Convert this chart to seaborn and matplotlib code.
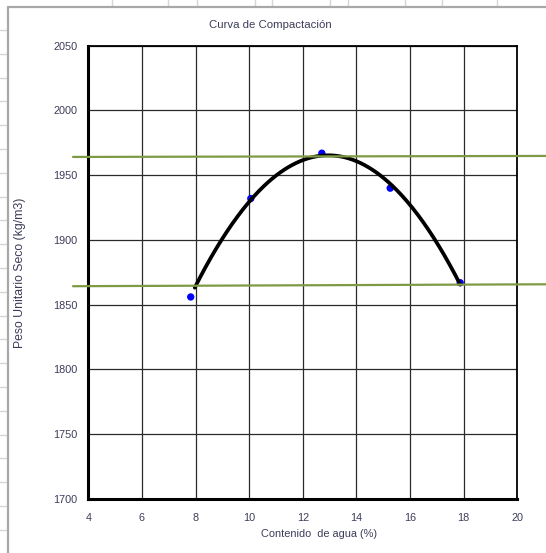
import numpy as np
import pandas as pd
import matplotlib
matplotlib.use("Agg")
import matplotlib.pyplot as plt
from matplotlib.lines import Line2D
import seaborn as sns

# Ensayo Proctor: contenido de agua (%) y peso unitario seco (kg/m3)
contenido_agua = [7.82, 10.06, 12.71, 15.26, 17.87]
peso_unitario = [1856, 1932, 1967, 1940, 1867]

# Referencias horizontales (valor en el extremo izquierdo y derecho)
ref_sup = [1964.1, 1964.9]
ref_inf = [1864.3, 1865.8]
ref_x = [3.43, 21.3]

x_ticks = [4, 6, 8, 10, 12, 14, 16, 18, 20]
y_ticks = [1700, 1750, 1800, 1850, 1900, 1950, 2000, 2050]

titulo = "Curva de Compactación"
etiqueta_x = "Contenido  de agua (%)"
etiqueta_y = "Peso Unitario Seco (kg/m3)"

sns.set_style("white")
plt.rcParams["font.family"] = ["Liberation Sans", "DejaVu Sans"]

W, H = 546, 553
fig = plt.figure(figsize=(W / 100, H / 100), dpi=100)
fig.patch.set_facecolor("white")

# Hoja de cálculo detrás del gráfico
cell = "#d6d6d6"
for yy in np.arange(30, 553, 23.8):
    fig.add_artist(Line2D([0, 8 / W], [1 - yy / H, 1 - yy / H], color=cell, lw=1))
for xx in [112, 168, 197, 255, 272, 330, 348, 405, 442, 497]:
    fig.add_artist(Line2D([xx / W, xx / W], [1, 1 - 7 / H], color=cell, lw=1))
fig.add_artist(Line2D([8 / W, 8 / W], [0, 1 - 7 / H], color="#a8a8a8", lw=1.6))
fig.add_artist(Line2D([8 / W, 1], [1 - 7 / H, 1 - 7 / H], color="#a8a8a8", lw=1.6))

left, right = 88.3 / W, 517.3 / W
bottom, top = 1 - 499 / H, 1 - 45.7 / H
ax = fig.add_axes([left, bottom, right - left, top - bottom])
ax.set_facecolor("white")

df = pd.DataFrame({"w": contenido_agua, "g": peso_unitario})

# Ajuste polinómico de segundo orden
coef = np.polyfit(df["w"], df["g"], 2)
xs = np.linspace(min(contenido_agua) + 0.15, max(contenido_agua), 200)
fit = pd.DataFrame({"w": xs, "g": np.polyval(coef, xs)})

ax.set_xlim(4, 20)
ax.set_ylim(1700, 2050)
ax.set_xticks(x_ticks)
ax.set_yticks(y_ticks)
ax.grid(True, color="#2a2a2a", lw=0.9)
ax.set_axisbelow(True)

sns.scatterplot(data=df, x="w", y="g", ax=ax, color="#0000ff", s=28,
                edgecolor="none", zorder=3)
sns.lineplot(data=fit, x="w", y="g", ax=ax, color="black", lw=2.7, zorder=4)

green = "#7f9a45"
ax.plot(ref_x, ref_sup, color=green, lw=1.6, clip_on=False, zorder=5)
ax.plot(ref_x, ref_inf, color=green, lw=1.6, clip_on=False, zorder=5)

for side in ["left", "bottom"]:
    ax.spines[side].set_linewidth(2.2)
    ax.spines[side].set_color("black")
for side in ["top", "right"]:
    ax.spines[side].set_linewidth(1.3)
    ax.spines[side].set_color("black")

txt = "#3c3c5a"
ax.tick_params(axis="both", direction="out", length=3, width=1, color="black",
               labelsize=7.8, labelcolor=txt, pad=3)
ax.tick_params(axis="x", pad=7)
ax.tick_params(axis="y", pad=5)

ax.set_xlabel(etiqueta_x, fontsize=7.9, color=txt)
ax.set_ylabel(etiqueta_y, fontsize=8.8, color=txt, family=["Liberation Sans"])
ax.xaxis.set_label_coords(0.539, -0.066)
ax.yaxis.set_label_coords(-0.146, 0.5)

fig.text(270 / W, 1 - 25 / H, titulo, ha="center", va="center", fontsize=8.2, color=txt)

fig.savefig("out.png", dpi=100)
